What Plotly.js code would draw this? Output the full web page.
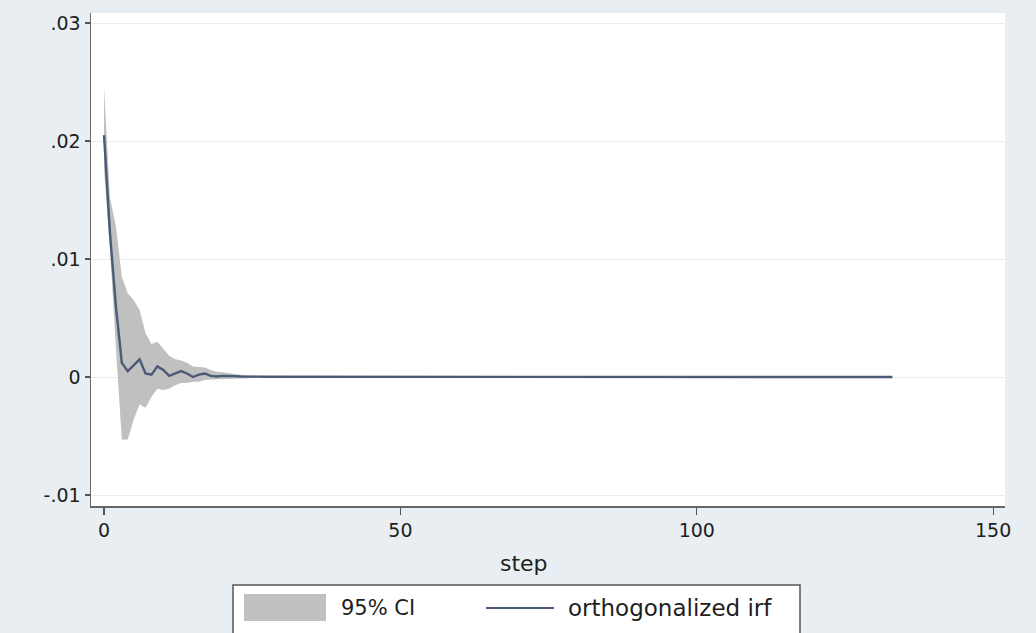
<!DOCTYPE html>
<html>
<head>
<meta charset="utf-8">
<script src="https://cdn.plot.ly/plotly-3.0.1.min.js"></script>
<style>
  html, body { margin: 0; padding: 0; background: #e8eef1; }
  #chart { width: 1036px; height: 633px; }
</style>
</head>
<body>
<div id="chart"></div>
<script>
// ---- data ----
const steps = [
  0, 1, 2, 3, 4, 5, 6, 7, 8, 9,
  10, 11, 12, 13, 14, 15, 16, 17, 18, 19,
  20, 21, 22, 23, 24, 25, 26, 27, 28, 29,
  30, 31, 32, 33, 34, 35, 36, 37, 38, 39,
  40, 41, 42, 43, 44, 45, 46, 47, 48, 49,
  50, 51, 52, 53, 54, 55, 56, 57, 58, 59,
  60, 61, 62, 63, 64, 65, 66, 67, 68, 69,
  70, 71, 72, 73, 74, 75, 76, 77, 78, 79,
  80, 81, 82, 83, 84, 85, 86, 87, 88, 89,
  90, 91, 92, 93, 94, 95, 96, 97, 98, 99,
  100, 101, 102, 103, 104, 105, 106, 107, 108, 109,
  110, 111, 112, 113, 114, 115, 116, 117, 118, 119,
  120, 121, 122, 123, 124, 125, 126, 127, 128, 129,
  130, 131, 132, 133
];

const irf = [
  0.0205, 0.0122, 0.0060, 0.0012, 0.0005, 0.0010, 0.0015, 0.0003, 0.0002, 0.0009,
  0.0006, 0.0001, 0.0003, 0.0005, 0.0003, 0.0000, 0.0002, 0.0003, 0.0001, 0.00005,
  0.0001, 0.00012, 0.00008, 0.00005, 0.00006, 0.00005, 0.00003, 0.00002, 0.00002, 0.00001,
  0.00001, 0, 0, 0, 0, 0, 0, 0, 0, 0,
  0, 0, 0, 0, 0, 0, 0, 0, 0, 0,
  0, 0, 0, 0, 0, 0, 0, 0, 0, 0,
  0, 0, 0, 0, 0, 0, 0, 0, 0, 0,
  0, 0, 0, 0, 0, 0, 0, 0, 0, 0,
  0, 0, 0, 0, 0, 0, 0, 0, 0, 0,
  0, 0, 0, 0, 0, 0, 0, 0, 0, 0,
  0, 0, 0, 0, 0, 0, 0, 0, 0, 0,
  0, 0, 0, 0, 0, 0, 0, 0, 0, 0,
  0, 0, 0, 0, 0, 0, 0, 0, 0, 0,
  0, 0, 0, 0
];

const ciUpper = [
  0.0246, 0.0152, 0.0128, 0.0085, 0.0071, 0.0065, 0.0057, 0.0037, 0.0028, 0.0030,
  0.0024, 0.0018, 0.0015, 0.0014, 0.0012, 0.0009, 0.00085, 0.0008, 0.0006, 0.00045,
  0.0004, 0.0003, 0.00025, 0.0002, 0.00015, 0.00012, 0.0001, 0.00008, 0.00006, 0.00004,
  0.00003, 0.00002, 0.00001, 0, 0, 0, 0, 0, 0, 0,
  0, 0, 0, 0, 0, 0, 0, 0, 0, 0,
  0, 0, 0, 0, 0, 0, 0, 0, 0, 0,
  0, 0, 0, 0, 0, 0, 0, 0, 0, 0,
  0, 0, 0, 0, 0, 0, 0, 0, 0, 0,
  0, 0, 0, 0, 0, 0, 0, 0, 0, 0,
  0, 0, 0, 0, 0, 0, 0, 0, 0, 0,
  0, 0, 0, 0, 0, 0, 0, 0, 0, 0,
  0, 0, 0, 0, 0, 0, 0, 0, 0, 0,
  0, 0, 0, 0, 0, 0, 0, 0, 0, 0,
  0, 0, 0, 0
];

const ciLower = [
  0.0175, 0.0108, 0.0025, -0.0053, -0.0053, -0.0036, -0.0023, -0.0026, -0.0017, -0.0010,
  -0.0011, -0.0010, -0.0007, -0.0005, -0.0005, -0.0004, -0.0004, -0.00025, -0.0002, -0.00018,
  -0.00015, -0.00012, -0.0001, -0.0001, -0.00008, -0.00006, -0.00005, -0.00004, -0.00003, -0.00002,
  -0.00001, 0, 0, 0, 0, 0, 0, 0, 0, 0,
  0, 0, 0, 0, 0, 0, 0, 0, 0, 0,
  0, 0, 0, 0, 0, 0, 0, 0, 0, 0,
  0, 0, 0, 0, 0, 0, 0, 0, 0, 0,
  0, 0, 0, 0, 0, 0, 0, 0, 0, 0,
  0, 0, 0, 0, 0, 0, 0, 0, 0, 0,
  0, 0, 0, 0, 0, 0, 0, 0, 0, 0,
  0, 0, 0, 0, 0, 0, 0, 0, 0, 0,
  0, 0, 0, 0, 0, 0, 0, 0, 0, 0,
  0, 0, 0, 0, 0, 0, 0, 0, 0, 0,
  0, 0, 0, 0
];

const yTickVals = [-0.01, 0, 0.01, 0.02, 0.03];
const yTickText = ['-.01', '0', '.01', '.02', '.03'];
const xTickVals = [0, 50, 100, 150];
const xTickText = ['0', '50', '100', '150'];
const xTitle = 'step';
const legendLabels = ['95% CI', 'orthogonalized irf'];

// ---- styling ----
const FONT = 'DejaVu Sans, Liberation Sans, Arial, sans-serif';
const LINE_COLOR = '#4b5a76';
const CI_COLOR = '#c0c0c0';
const TEXT_COLOR = '#1e1e1e';

// plot-area pixel geometry -> paper coordinates for the hand-made legend
const PL = 91, PR = 1005, PT = 13, PB = 506;
const px = v => (v - PL) / (PR - PL);
const py = v => (PB - v) / (PB - PT);

const traces = [
  {
    x: steps, y: ciUpper, type: 'scatter', mode: 'lines',
    line: {width: 0, color: CI_COLOR}, hoverinfo: 'skip', showlegend: false
  },
  {
    x: steps, y: ciLower, type: 'scatter', mode: 'lines',
    line: {width: 0, color: CI_COLOR}, fill: 'tonexty', fillcolor: CI_COLOR,
    name: legendLabels[0], showlegend: false
  },
  {
    x: steps, y: irf, type: 'scatter', mode: 'lines',
    line: {width: 2.4, color: LINE_COLOR},
    name: legendLabels[1], showlegend: false
  }
];

const layout = {
  width: 1036, height: 633,
  paper_bgcolor: '#e8eef1',
  plot_bgcolor: '#ffffff',
  margin: {l: PL, r: 1036 - PR, t: PT, b: 633 - PB, pad: 0},
  font: {family: FONT, color: TEXT_COLOR},
  showlegend: false,
  xaxis: {
    range: [-2.2, 152.0],
    tickvals: xTickVals, ticktext: xTickText,
    ticks: 'outside', ticklen: 7, tickwidth: 1.2, tickcolor: '#555555',
    showline: true, linecolor: '#666666', linewidth: 1.5,
    showgrid: false, zeroline: false,
    tickfont: {size: 19, color: TEXT_COLOR, family: FONT},
    automargin: false
  },
  yaxis: {
    range: [-0.01093, 0.03085],
    tickvals: yTickVals, ticktext: yTickText,
    ticks: 'outside', ticklen: 5, tickwidth: 1.2, tickcolor: '#555555',
    showline: true, linecolor: '#666666', linewidth: 1.5,
    showgrid: true, gridcolor: '#ececec', gridwidth: 1,
    zeroline: false,
    tickfont: {size: 19, color: TEXT_COLOR, family: FONT},
    automargin: false
  },
  shapes: [
    // legend frame
    {type: 'rect', xref: 'paper', yref: 'paper',
     x0: px(233), x1: px(800), y0: py(642), y1: py(585),
     fillcolor: '#ffffff', line: {color: '#555555', width: 1.5}, layer: 'above'},
    // CI swatch
    {type: 'rect', xref: 'paper', yref: 'paper',
     x0: px(244), x1: px(326), y0: py(621), y1: py(594),
     fillcolor: CI_COLOR, line: {width: 0}, layer: 'above'},
    // irf swatch
    {type: 'line', xref: 'paper', yref: 'paper',
     x0: px(486), x1: px(554), y0: py(608), y1: py(608),
     line: {color: LINE_COLOR, width: 2}, layer: 'above'}
  ],
  annotations: [
    // x-axis title (Stata places it slightly left of the plot centre)
    {xref: 'paper', yref: 'paper', x: px(524), y: py(563),
     xanchor: 'center', yanchor: 'middle', showarrow: false,
     text: xTitle, font: {size: 22, color: TEXT_COLOR, family: FONT}},
    {xref: 'paper', yref: 'paper', x: px(339), y: py(608),
     xanchor: 'left', yanchor: 'middle', showarrow: false,
     text: legendLabels[0], font: {size: 21, color: TEXT_COLOR, family: FONT}},
    {xref: 'paper', yref: 'paper', x: px(566), y: py(608),
     xanchor: 'left', yanchor: 'middle', showarrow: false,
     text: legendLabels[1], font: {size: 23, color: TEXT_COLOR, family: FONT}}
  ]
};

Plotly.newPlot('chart', traces, layout, {staticPlot: true, displayModeBar: false});
</script>
</body>
</html>
